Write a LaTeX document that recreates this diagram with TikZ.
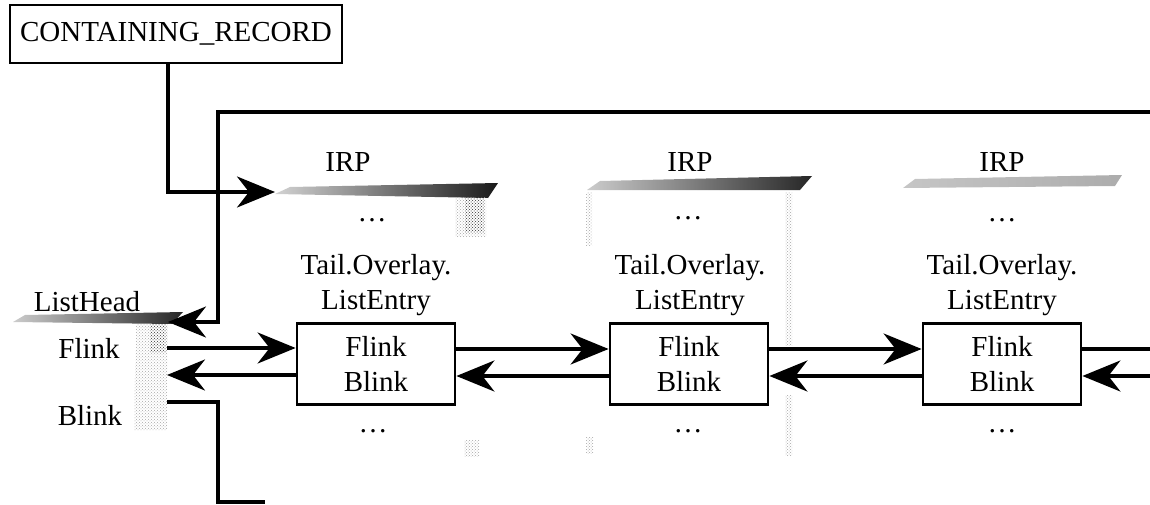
\documentclass[tikz,border=0pt]{standalone}
\usepackage{fontspec}
\setmainfont{Liberation Serif}
\usetikzlibrary{arrows.meta,patterns,calc}

\begin{document}
\begin{tikzpicture}[x=1pt,y=-1pt,
  every node/.style={font=\fontsize{29}{34.5}\selectfont, inner sep=0pt},
  wire/.style={line width=3.2pt},
  ptr/.style={wire,-{Stealth[length=38pt,width=31pt,inset=12pt]}},
  entrybox/.style={draw,line width=2.8pt,minimum width=158pt,minimum height=81pt,align=center},
  recbox/.style={draw,line width=2.8pt,minimum width=332pt,minimum height=58pt},
  shadow/.style={pattern=crosshatch dots,pattern color=gray!70},
  darkshadow/.style={pattern=crosshatch dots,pattern color=black!75}]
\useasboundingbox (0,0) rectangle (1150,505);

% shaded header bars of the structures
\shade[left color=gray!35,right color=black!90]
  (275,194) -- (290,187) -- (498,183) -- (488,198) -- cycle;
\shade[left color=gray!40,right color=black!85]
  (587,190) -- (600,181) -- (812,176) -- (800,190) -- cycle;
\shade[left color=gray!45,right color=gray!65]
  (903,188) -- (915,179) -- (1122,175) -- (1115,186) -- cycle;
\shade[left color=gray!40,right color=black!85]
  (13,322) -- (25,315) -- (183,312) -- (172,324) -- cycle;

% grainy side shadows
\fill[shadow] (136,324) -- (168,324) -- (167,430) -- (134,430) -- cycle;
\fill[darkshadow] (150,324) rectangle (166,352);
\fill[shadow] (455,197) rectangle (486,236);
\fill[darkshadow] (465,197) rectangle (484,232);
\fill[shadow] (464,440) rectangle (479,456);
\fill[shadow] (586,192) rectangle (592,245);
\fill[shadow] (586,437) rectangle (593,453);
\fill[shadow] (785,192) rectangle (792,345);
\fill[shadow] (785,395) rectangle (792,455);

% record box
\node[recbox] (cr) at (176,34) {CONTAINING\_RECORD};

% IRP headers
\node (irp1) at (348,162) {IRP};
\node (irp2) at (690,162) {IRP};
\node (irp3) at (1002,162) {IRP};

\node (top1) at (372,220) {\ldots};
\node (top2) at (688,218) {\ldots};
\node (top3) at (1002,220) {\ldots};

\node[align=center] (tail1) at (376,285) {Tail.Overlay.\\ListEntry};
\node[align=center] (tail2) at (690,285) {Tail.Overlay.\\ListEntry};
\node[align=center] (tail3) at (1002,285) {Tail.Overlay.\\ListEntry};

\node[entrybox] (e1) at (376,364) {Flink\\Blink};
\node[entrybox] (e2) at (689,364) {Flink\\Blink};
\node[entrybox] (e3) at (1002,364) {Flink\\Blink};

\node (bot1) at (373,431) {\ldots};
\node (bot2) at (688,431) {\ldots};
\node (bot3) at (1002,431) {\ldots};

% list head
\node (lh) at (87,302) {ListHead};
\node (lhf) at (89,348) {Flink};
\node (lhb) at (90,415) {Blink};

% connector end points
\coordinate (irpin) at (275,192);
\coordinate (loopR) at (1150,112);
\coordinate (lhtip) at (168,322);
\coordinate (lhfout) at (167,348);
\coordinate (lhbin) at (167,375);
\coordinate (lhbout) at (167,402);
\coordinate (corner) at (218,502);
\coordinate (bottomR) at (265,502);
\coordinate (rightF) at (1150,349);
\coordinate (rightB) at (1150,376);

% record pointer into the first IRP
\draw[ptr] ([xshift=-8pt]cr.south) |- (irpin);

% wrap-around Blink link into the list head
\draw[ptr] (loopR) -| ($(lhtip)+(50,0)$) -- (lhtip);

% list head Blink running off the bottom
\draw[wire] (lhbout) -| (corner) -- (bottomR);

% forward and backward links
\draw[ptr] (lhfout) -- (e1.west |- lhfout);
\draw[ptr] (e1.west |- lhbin) -- (lhbin);

\draw[ptr] ($(e1.east)+(0,-15)$) -- ($(e2.west)+(0,-15)$);
\draw[ptr] ($(e2.west)+(0,12)$) -- ($(e1.east)+(0,12)$);

\draw[ptr] ($(e2.east)+(0,-15)$) -- ($(e3.west)+(0,-15)$);
\draw[ptr] ($(e3.west)+(0,12)$) -- ($(e2.east)+(0,12)$);

\draw[wire] ($(e3.east)+(0,-15)$) -- (rightF);
\draw[ptr] (rightB) -- ($(e3.east)+(0,12)$);
\end{tikzpicture}
\end{document}
